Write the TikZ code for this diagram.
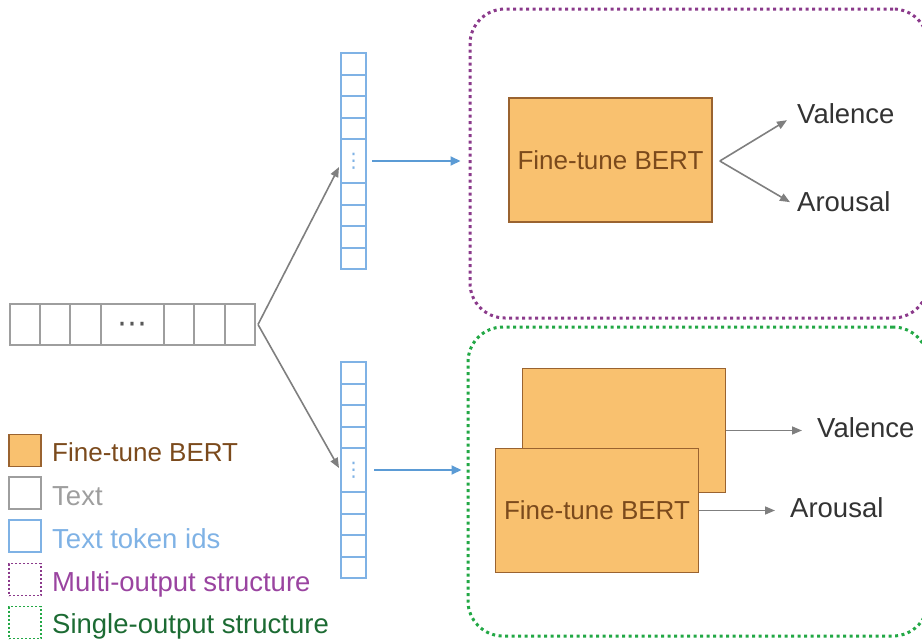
\documentclass[tikz,border=0pt]{standalone}
\usepackage{fontspec}
\setmainfont{Liberation Sans}
\newfontfamily\dotsfont{DejaVu Sans}
\usetikzlibrary{arrows.meta,calc}
\definecolor{bertfill}{HTML}{F9C16F}
\definecolor{bertdraw}{HTML}{9A6330}
\definecolor{berttext}{HTML}{7B4A1C}
\definecolor{txtgray}{HTML}{9E9E9E}
\definecolor{tokblue}{HTML}{7FB2E5}
\definecolor{arrowblue}{HTML}{5B9BD5}
\definecolor{mpurple}{HTML}{8B3A8B}
\definecolor{mpurpletext}{HTML}{9A44A0}
\definecolor{sgreen}{HTML}{22A845}
\definecolor{sgreentext}{HTML}{1C6B33}
\definecolor{outgray}{HTML}{333333}
\definecolor{arrgray}{HTML}{7F7F7F}
\tikzset{
  cell/.style={draw=txtgray, line width=2pt, minimum height=41pt, inner sep=0pt, outer sep=0pt},
  tok/.style={draw=tokblue, line width=2pt, minimum width=25pt, inner sep=0pt, outer sep=0pt},
  bert/.style={draw=bertdraw, fill=bertfill, line width=1.6pt, minimum width=203pt, minimum height=124pt,
    inner sep=0pt, text=berttext, font=\fontsize{26}{30}\selectfont},
  outlbl/.style={text=outgray, font=\fontsize{27.5}{32}\selectfont, inner sep=0pt, anchor=base west},
  garrow/.style={draw=arrgray, line width=1.6pt, -{Triangle[length=10pt,width=8pt]}},
  barrow/.style={draw=arrowblue, line width=2pt, -{Triangle[length=10pt,width=9pt]}},
  framebox/.style={line width=3pt, dash pattern=on 3pt off 3.5pt, rounded corners=35pt, inner sep=0pt},
  legsq/.style={minimum width=32pt, minimum height=32pt, inner sep=0pt, line width=1.8pt},
  legtxt/.style={anchor=base west, inner sep=0pt, font=\fontsize{27.5}{32}\selectfont},
}
\begin{document}
\begin{tikzpicture}[x=1pt,y=-1pt]
\useasboundingbox (0,0) rectangle (922,640);

% structure frames
\node[framebox, draw=mpurple, minimum width=458pt, minimum height=309pt] (multi) at (699,163.5) {};
\node[framebox, draw=sgreen, minimum width=460pt, minimum height=309pt] (single) at (698,481.5) {};

% text row
\node[cell, minimum width=30pt] (t1) at (25,324.5) {};
\node[cell, minimum width=30pt] (t2) at (55,324.5) {};
\node[cell, minimum width=31pt] (t3) at (85.5,324.5) {};
\node[cell, minimum width=63pt, text=black!65, font=\dotsfont\fontsize{30}{32}\selectfont] (td) at (132.5,324.5) {\raisebox{-9pt}[0pt][0pt]{⋯}};
\node[cell, minimum width=30pt] (t5) at (179,324.5) {};
\node[cell, minimum width=31pt] (t6) at (209.5,324.5) {};
\node[cell, minimum width=30pt] (t7) at (240,324.5) {};
\coordinate (fan) at ($(t7.east)+(3,0)$);

% token columns
\foreach \i/\y in {1/63.75,2/85.25,3/106.75,4/128.25,5/193.75,6/215.25,7/236.75,8/258.25}
  \node[tok, minimum height=21.5pt] (a\i) at (353.5,\y) {};
\node[tok, minimum height=44pt, text=tokblue, font=\dotsfont\fontsize{20}{22}\selectfont] (ad) at (353.5,161) {⋮};
\foreach \i/\y in {1/372.75,2/394.25,3/415.75,4/437.25,5/502.75,6/524.25,7/545.75,8/567.25}
  \node[tok, minimum height=21.5pt] (b\i) at (353.5,\y) {};
\node[tok, minimum height=44pt, text=tokblue, font=\dotsfont\fontsize{20}{22}\selectfont] (bd) at (353.5,470) {⋮};

\draw[garrow] (fan) -- ($(ad.west)+(-2,6)$);
\draw[garrow] (fan) -- ($(bd.west)+(-2,-2)$);
\draw[barrow] ($(ad.east)+(6,0)$) -- ($(ad.east -| multi.west)+(-8,0)$);
\draw[barrow] ($(bd.east)+(8,0)$) -- ($(bd.east -| single.west)+(-5,0)$);

% multi-output
\node[bert] (bertm) at (610.5,160) {Fine-tune BERT};
\node[outlbl] (valm) at (797,123) {Valence};
\node[outlbl] (arom) at (797,211) {Arousal};
\coordinate (splitm) at ($(bertm.east)+(7,1)$);
\draw[garrow] (splitm) -- ($(valm.west)+(-10,7)$);
\draw[garrow] (splitm) -- ($(arom.west)+(-7,1)$);

% single-output
\node[bert] (bertb) at (624,430.5) {};
\node[bert] (bertf) at (597,510.5) {Fine-tune BERT};
\node[outlbl] (vals) at (817,437) {Valence};
\node[outlbl] (aros) at (790,517) {Arousal};
\draw[garrow] (bertb.east) -- ($(bertb.east -| vals.west)+(-15,0)$);
\draw[garrow] (bertf.east) -- ($(bertf.east -| aros.west)+(-15,0)$);

% legend
\node[legsq, draw=bertdraw, fill=bertfill] (lg1) at (25,450.5) {};
\node[legsq, draw=txtgray] (lg2) at (25,493) {};
\node[legsq, draw=tokblue] (lg3) at (25,536) {};
\node[legsq, draw=mpurple, line width=1.5pt, dash pattern=on 2pt off 2pt] (lg4) at (25,579.5) {};
\node[legsq, draw=sgreen, line width=1.5pt, dash pattern=on 2pt off 2pt] (lg5) at (25,622.5) {};
\node[legtxt, text=berttext, font=\fontsize{26}{30}\selectfont] (lt1) at (52,461.5) {Fine-tune BERT};
\node[legtxt, text=txtgray] (lt2) at (52,505) {Text};
\node[legtxt, text=tokblue] (lt3) at (52,548) {Text token ids};
\node[legtxt, text=mpurpletext] (lt4) at (52,591.5) {Multi-output structure};
\node[legtxt, text=sgreentext] (lt5) at (52,633) {Single-output structure};
\end{tikzpicture}
\end{document}
